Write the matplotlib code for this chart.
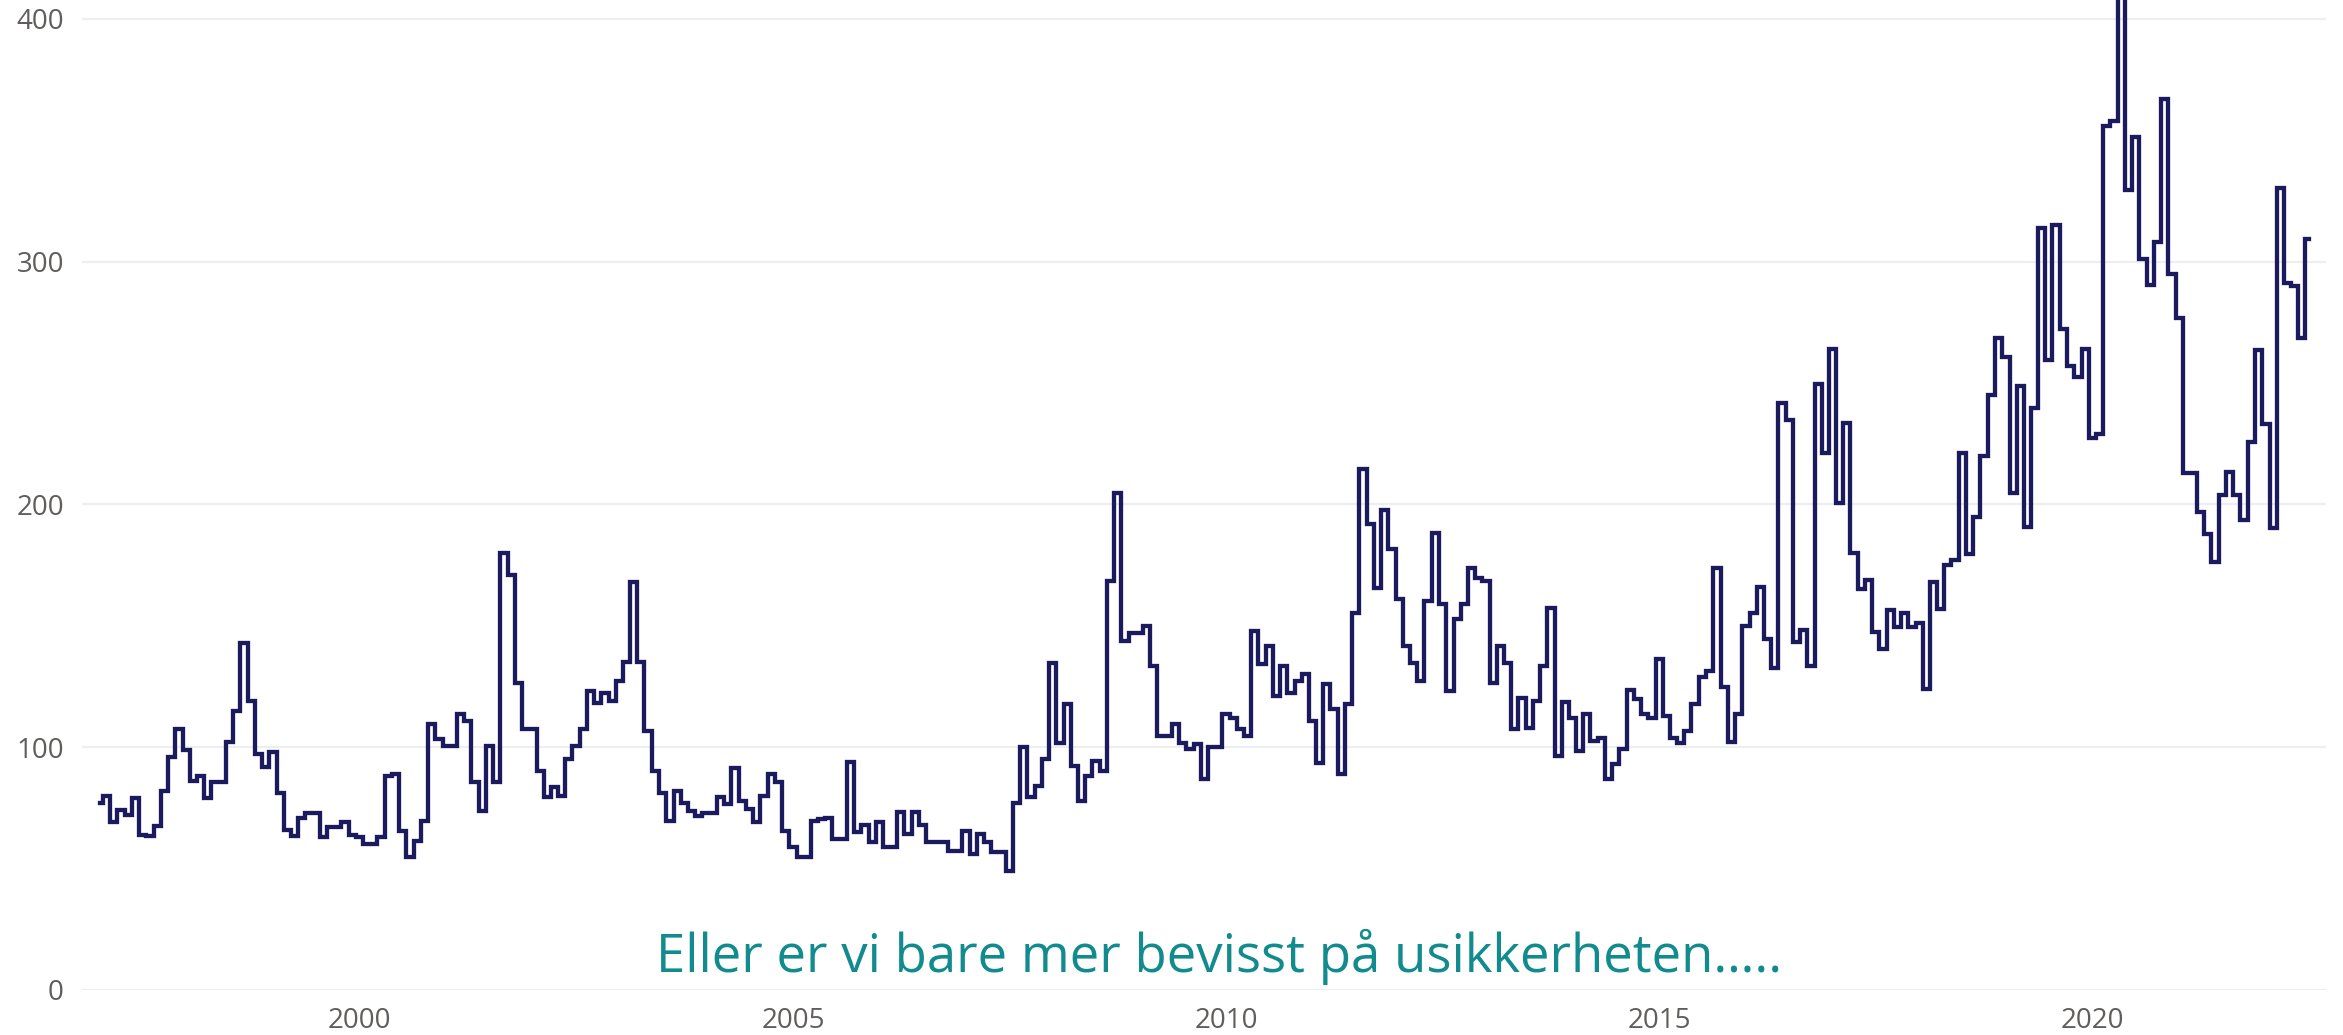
import numpy as np
import pandas as pd
import matplotlib
matplotlib.use("Agg")
import matplotlib.pyplot as plt
import matplotlib.dates as mdates

plt.rcParams['font.family'] = ['Open Sans', 'DejaVu Sans']

# ── monthly index, Jan 1997 – Jul 2022 ─────────────────────────────────────
START = '1997-01-01'
index_values = [
    77, 80, 69, 74, 72, 79, 64, 63.5, 67.6, 82, 96, 107.5,                        # 1997
    99, 86, 88, 79, 85.5, 85.5, 102, 115, 143, 119, 97, 92,                       # 1998
    98, 81, 66, 63.5, 71, 73, 73, 63, 67, 67, 69, 64,                             # 1999
    63, 60, 60, 63, 88, 89, 65.6, 54.6, 61.4, 69.7, 109.5, 103.3,                 # 2000
    100.5, 100.5, 113.6, 110.8, 85.5, 73.8, 100.5, 85.5, 180, 171, 126.6, 107.7,  # 2001
    107.7, 90.3, 79.3, 83.8, 79.8, 95, 100.5, 107.7, 123.2, 118.4, 122.5, 119,    # 2002
    127.3, 135, 168, 135, 106.7, 90.3, 81, 69.7, 82, 77.2, 73.8, 71.8,            # 2003
    73.1, 73.1, 79.3, 76.5, 91.6, 77.9, 74.5, 69, 80, 88.9, 85.5, 65.6,           # 2004
    58.7, 54.6, 54.6, 69.7, 70.4, 71, 62.1, 62.1, 94, 64.9, 67.9, 60.8,           # 2005
    69, 58.7, 58.7, 73.4, 64.2, 73.4, 67.9, 60.8, 60.8, 60.8, 57.4, 57.4,         # 2006
    65.6, 56, 64.2, 60.8, 56.7, 56.7, 49.1, 77.2, 99.9, 79.3, 84.1, 95.1,         # 2007
    134.8, 101.9, 117.7, 92.3, 77.9, 88.2, 94.4, 90.3, 168.4, 204.8, 143.7, 147.2,  # 2008
    147.2, 149.9, 133.5, 104.7, 104.7, 109.5, 101.9, 99.2, 101.2, 86.8, 99.9, 99.9,  # 2009
    113.6, 112.2, 107.4, 104.7, 147.9, 134.2, 141.7, 121.1, 133.5, 122.5, 127.3, 130,  # 2010
    110.8, 93.7, 125.9, 115.6, 88.9, 117.7, 155.4, 214.4, 191.8, 165.7, 197.9, 181.5,  # 2011
    161.2, 141.7, 134.8, 127.3, 160.2, 188.3, 158.9, 123.2, 152.7, 158.9, 173.9, 169.8,  # 2012
    168.4, 126.6, 141.7, 134.8, 107.4, 120.4, 108.1, 119.1, 133.5, 157.5, 96.4, 118.7,  # 2013
    112.2, 98.5, 113.6, 102.6, 104, 87.1, 93, 99.2, 123.4, 119.8, 113.6, 112.2,   # 2014
    136.2, 113, 104, 101.9, 106.7, 117.7, 129.1, 131.2, 173.7, 124.9, 102, 113.5,  # 2015
    150, 155.3, 166, 144.7, 132.6, 241.8, 234.7, 143.3, 148.2, 133.4, 249.6, 221.2,  # 2016
    264.2, 200.7, 233.5, 180.1, 165.3, 168.8, 147.5, 140.5, 156.5, 149.4, 155.3, 149.5,  # 2017
    151, 124, 168, 157, 174.9, 177.2, 221.3, 179.4, 194.7, 219.8, 244.9, 268.5,   # 2018
    260.9, 204.6, 248.7, 190.9, 239.6, 313.7, 259.4, 315.3, 272.3, 257.1, 252.5, 263.9,  # 2019
    227.4, 228.9, 356, 357.9, 430, 329.4, 351.5, 301.2, 290.6, 308.1, 367, 295.1,  # 2020
    276.9, 213, 213, 197, 187.8, 176.4, 203.8, 213.2, 203.8, 193.5, 225.9, 263.5,  # 2021
    233, 190.1, 330.5, 291.4, 289.8, 268.5, 309.2,                                 # 2022
]
months = pd.date_range(START, periods=len(index_values), freq='MS')

Y_TICKS = [0, 100, 200, 300, 400]
X_TICK_YEARS = [2000, 2005, 2010, 2015, 2020]
NOTE = 'Eller er vi bare mer bevisst på usikkerheten…..'

LINE_C = '#1b1a5c'
GRID_C = '#eceef2'
TICK_C = '#605e5c'
NOTE_C = '#118b8e'

# ── figure ─────────────────────────────────────────────────────────────────
fig = plt.figure(figsize=(23.43, 10.35), dpi=100)
ax = fig.add_axes([0.035, 0.0435, 0.9577, 0.9565])

ax.plot(months, index_values, drawstyle='steps-mid',
        color=LINE_C, lw=3.1, solid_joinstyle='miter', zorder=3)

ax.set_ylim(0, 407.8)
ax.set_xlim(pd.Timestamp('1996-10-18'), pd.Timestamp('2022-09-11'))
ax.set_yticks(Y_TICKS)
ax.set_xticks([pd.Timestamp(f'{y}-01-01') for y in X_TICK_YEARS])
ax.xaxis.set_major_formatter(mdates.DateFormatter('%Y'))

ax.grid(axis='y', color=GRID_C, lw=1.6, zorder=0)
ax.grid(axis='x', visible=False)
for s in ax.spines.values():
    s.set_visible(False)
ax.tick_params(axis='both', length=0, labelsize=20, labelcolor=TICK_C)
ax.tick_params(axis='y', pad=13)
ax.tick_params(axis='x', pad=12)

fig.text(0.5202, 0.0609, NOTE, ha='center', va='baseline',
         fontsize=38, color=NOTE_C)

fig.savefig('out.png', dpi=100)
